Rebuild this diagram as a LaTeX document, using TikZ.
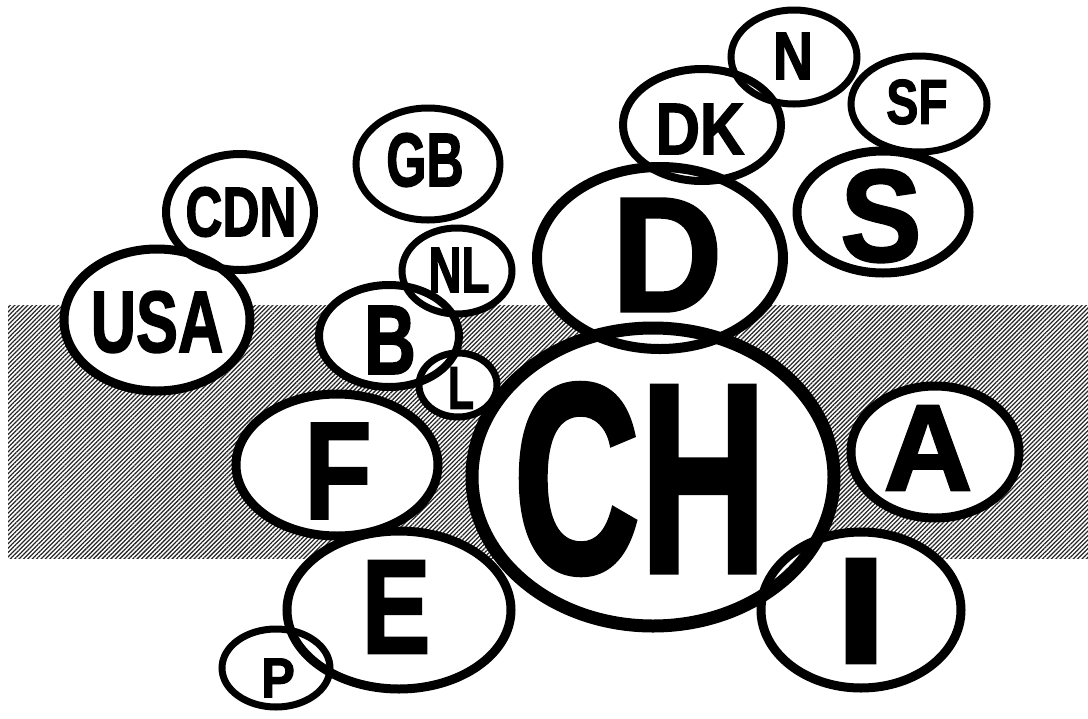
\documentclass[tikz,border=0pt]{standalone}
\usepackage{graphicx}
\usepackage{fontspec}
\setmainfont{Liberation Sans}[BoldFeatures={FakeBold=2}]
\usetikzlibrary{shapes.geometric,patterns.meta}

\newcommand\platelist{%
	USA/157/320/93/71/9/157/322/62/.72,
	CDN/240/212/74/58/8/241/212/50/.73,
	GB/428/164/72/56/7/425/160/54/.68,
	NL/457/271/55/43/7/459/270/46/.71,
	B/389/336/70/51/8/390/340/70/.73,
	L/458/385/39/32/7/461/388/43/.7,
	F/337/465/101/71/9/338/471/98/.8,
	E/399/610/112/79/9/396/607/95/.77,
	P/276/668/54/39/7/278/678/40/.9,
	CH/653/477/181/149/13/640/479/192/.65,
	A/935/452/84/66/9/928/448/87/1,
	I/861/610/100/78/9/861/611/107/1.25,
	D/660/258/123/91/10/667/255/116/.94,
	DK/702/125/79/56/8/700/129/52/.84,
	N/794/57/63/47/7/793/56/48/.82,
	SF/919/104/68/48/7/917/102/45/.76,
	S/883/212/86/61/9/881/216/93/.93}

\tikzset{
	plate/.style={ellipse, inner sep=0pt},
	platelabel/.style={inner sep=0pt, font=\bfseries},
	band/.style={pattern={Lines[angle=45, distance=2.2pt, line width=.9pt]}, pattern color=black!85}
}

\begin{document}
\begin{tikzpicture}[x=0.25mm, y=-0.25mm]
	\useasboundingbox (0,0) rectangle (1088,718);
	\fill[band] (8,305) rectangle (1088,558);

	\foreach \n/\x/\y/\a/\b/\w/\tx/\ty/\f/\s in \platelist
		\node[plate, fill=white, minimum width=\a*0.5mm, minimum height=\b*0.5mm] at (\x,\y) {};

	\foreach \n/\x/\y/\a/\b/\w/\tx/\ty/\f/\s in \platelist {
		\node[plate, draw, line width=\w*0.25mm, minimum width=\a*0.5mm, minimum height=\b*0.5mm] (\n) at (\x,\y) {};
		\node[platelabel] (\n-label) at (\tx,\ty) {\scalebox{\s}[1]{\fontsize{\f}{\f}\selectfont\n}};
	}
\end{tikzpicture}
\end{document}
